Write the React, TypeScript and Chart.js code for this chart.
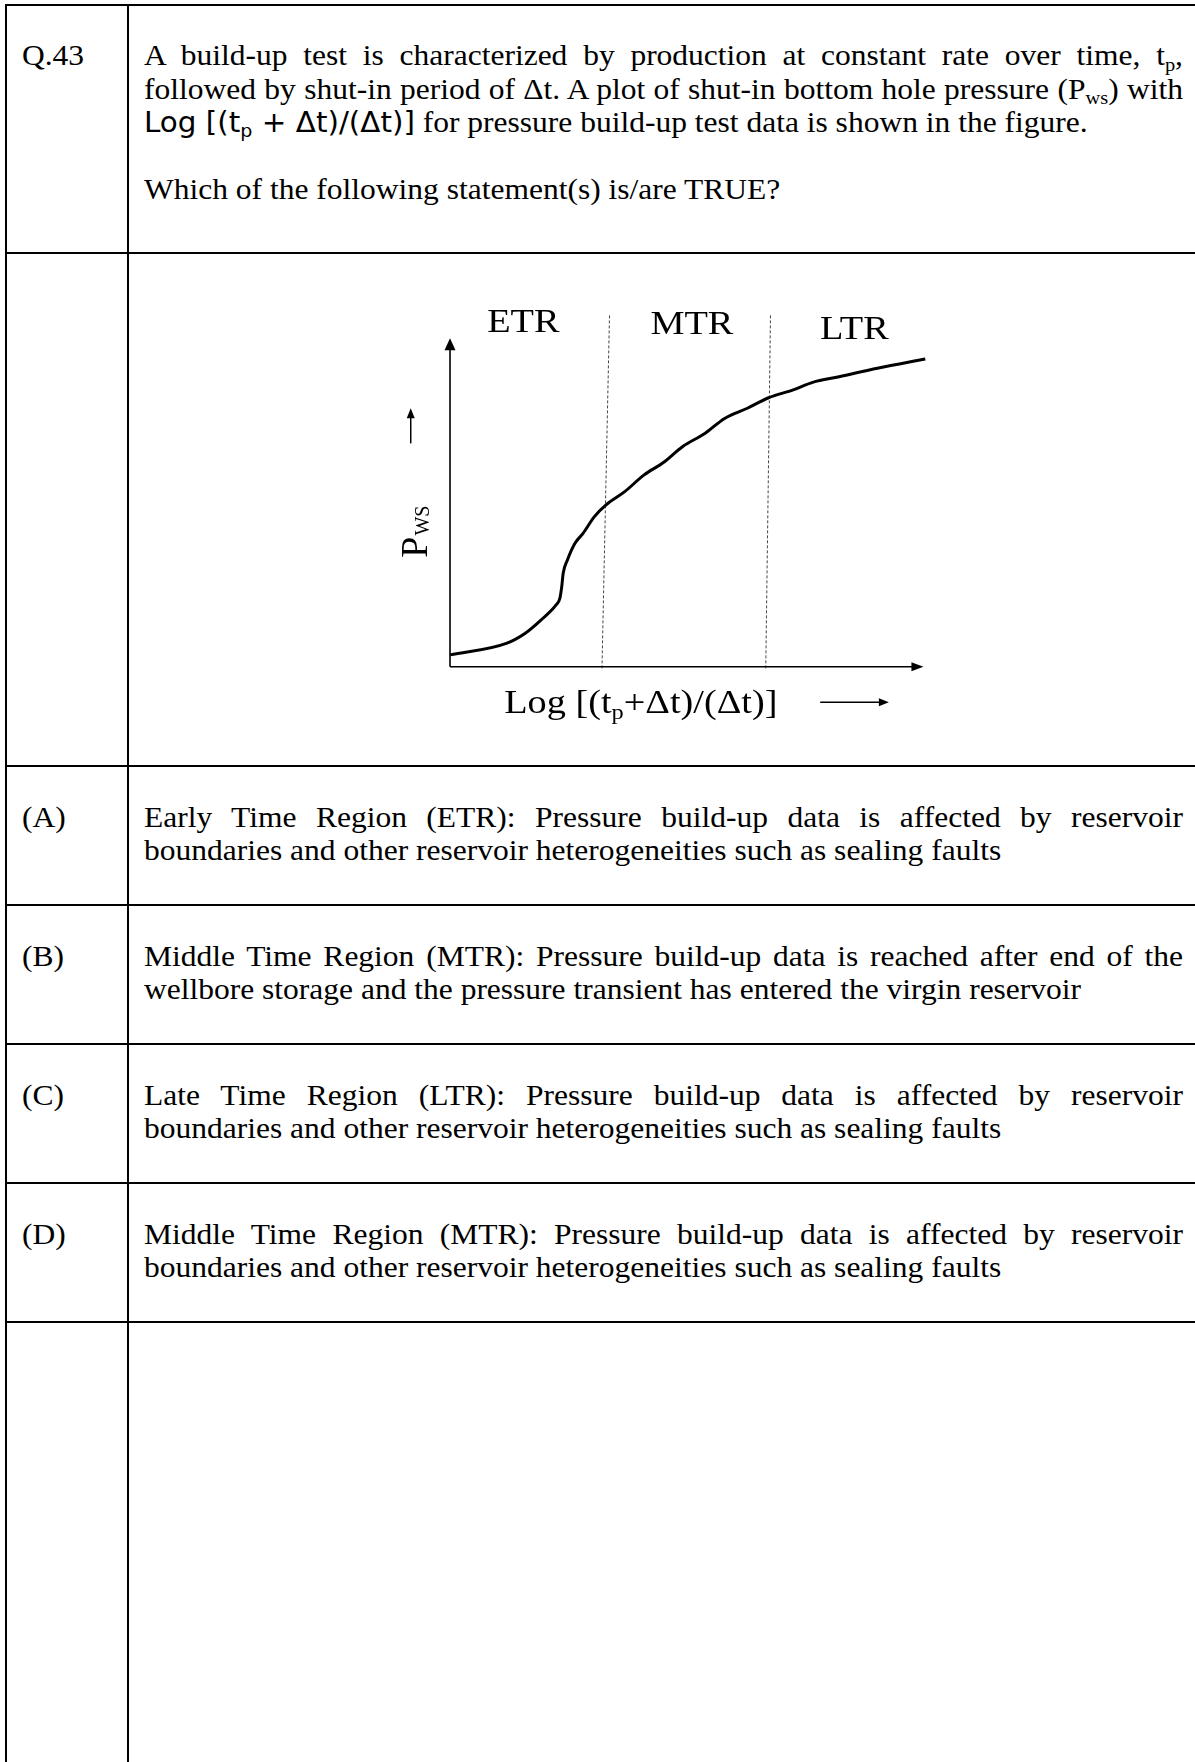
import React, { useEffect, useRef } from "react";
import { Chart, registerables } from "chart.js";

Chart.register(...registerables);

// ---- chart data (unitless: 0..100 on each axis) ----
const curveX = [0, 11.9, 15.9, 19.2, 22.4, 23.2, 23.6, 23.9, 24.8, 26.4, 28.1, 30.5, 32.9, 36.9, 41.0, 45.0, 49.1, 53.9, 58.0, 62.8, 67.3, 72.5, 76.6, 82.2, 90.3, 100.4];
const curveY = [3.6, 7.1, 10.2, 14.2, 18.8, 20.8, 24.4, 28.4, 32.5, 37.6, 40.6, 45.7, 49.2, 53.3, 58.4, 62.1, 67.0, 71.1, 75.6, 78.7, 81.9, 84.3, 86.6, 88.3, 90.9, 93.7];
const boundary1X = [32.1, 33.7];
const boundary1Y = [-0.5, 107.6];
const boundary2X = [66.7, 67.7];
const boundary2Y = [-0.5, 107.1];
const regionLabels = ["ETR", "MTR", "LTR"];
const regionLabelX = [15.5, 51.1, 85.4];
const regionLabelY = [104.6, 104.0, 102.5];
const axisEnd = [100, 100];
const yLabelPos = [-7.4, 41];
const yArrow = [-8.3, 68, 78.7];
const xLabelPos = [40.3, -14.2];
const xArrow = [78.2, 92.7, -10.8];

const FIG_FONT = '"Liberation Serif", "Times New Roman", serif';
const STRETCH = 1.16;

const toPts = (xs: number[], ys: number[]) => xs.map((x, i) => ({ x, y: ys[i] }));

function arrowHead(ctx: CanvasRenderingContext2D, tx: number, ty: number, dir: "up" | "right", len: number, half: number) {
  ctx.beginPath();
  if (dir === "right") {
    ctx.moveTo(tx, ty);
    ctx.lineTo(tx - len, ty - half);
    ctx.lineTo(tx - len, ty + half);
  } else {
    ctx.moveTo(tx, ty);
    ctx.lineTo(tx - half, ty + len);
    ctx.lineTo(tx + half, ty + len);
  }
  ctx.closePath();
  ctx.fill();
}

const decorPlugin = {
  id: "decor",
  afterDatasetsDraw(chart: any) {
    const { ctx } = chart;
    const xs = chart.scales.x;
    const ys = chart.scales.y;
    const px = (v: number) => xs.getPixelForValue(v);
    const py = (v: number) => ys.getPixelForValue(v);
    ctx.save();
    ctx.fillStyle = "#000";
    ctx.strokeStyle = "#000";
    // axes
    ctx.lineWidth = 1.6;
    const ox = px(0), oy = py(0);
    const ex = px(axisEnd[0]), ey = py(axisEnd[1]);
    ctx.beginPath();
    ctx.moveTo(ox, oy);
    ctx.lineTo(ex - 8, oy);
    ctx.moveTo(ox, oy);
    ctx.lineTo(ox, ey + 8);
    ctx.stroke();
    arrowHead(ctx, ex, oy, "right", 12, 4.5);
    arrowHead(ctx, ox, ey, "up", 12, 5.5);

    // region labels
    ctx.font = `33px ${FIG_FONT}`;
    ctx.textBaseline = "middle";
    ctx.textAlign = "center";
    regionLabels.forEach((t, i) => {
      ctx.save();
      ctx.translate(px(regionLabelX[i]), py(regionLabelY[i]));
      ctx.scale(STRETCH, 1);
      ctx.fillText(t, 0, 0);
      ctx.restore();
    });

    // x label with subscript
    ctx.textBaseline = "alphabetic";
    ctx.textAlign = "left";
    const big = `33px ${FIG_FONT}`;
    const small = `21px ${FIG_FONT}`;
    const parts: [string, string, number][] = [
      ["Log [(t", big, 0],
      ["p", small, 6],
      ["+\u0394t)/(\u0394t)]", big, 0],
    ];
    let total = 0;
    parts.forEach(([t, f]) => {
      ctx.font = f;
      total += ctx.measureText(t).width;
    });
    ctx.save();
    ctx.translate(px(xLabelPos[0]), py(xLabelPos[1]));
    ctx.scale(STRETCH, 1);
    let cx = -total / 2;
    parts.forEach(([t, f, dy]) => {
      ctx.font = f;
      ctx.fillText(t, cx, dy);
      cx += ctx.measureText(t).width;
    });
    ctx.restore();
    // x arrow
    ctx.lineWidth = 1.5;
    ctx.beginPath();
    ctx.moveTo(px(xArrow[0]), py(xArrow[2]));
    ctx.lineTo(px(xArrow[1]) - 8, py(xArrow[2]));
    ctx.stroke();
    arrowHead(ctx, px(xArrow[1]), py(xArrow[2]), "right", 10, 4);

    // y label (rotated)
    ctx.save();
    ctx.translate(px(yLabelPos[0]), py(yLabelPos[1]));
    ctx.rotate(-Math.PI / 2);
    ctx.font = `38px ${FIG_FONT}`;
    const wP = ctx.measureText("P").width;
    ctx.font = `20px ${FIG_FONT}`;
    const wS = ctx.measureText("WS").width;
    const start = -(wP + wS) / 2;
    ctx.font = `38px ${FIG_FONT}`;
    ctx.fillText("P", start, 12);
    ctx.font = `20px ${FIG_FONT}`;
    ctx.fillText("WS", start + wP + 1, 14);
    ctx.restore();
    // y arrow
    ctx.beginPath();
    ctx.moveTo(px(yArrow[0]), py(yArrow[1]));
    ctx.lineTo(px(yArrow[0]), py(yArrow[2]) + 8);
    ctx.stroke();
    arrowHead(ctx, px(yArrow[0]), py(yArrow[2]), "up", 10, 4);
    ctx.restore();
  },
};

function Figure() {
  const ref = useRef<HTMLCanvasElement | null>(null);
  useEffect(() => {
    if (!ref.current) return;
    const chart = new Chart(ref.current, {
      type: "scatter",
      data: {
        datasets: [
          {
            data: toPts(curveX, curveY),
            showLine: true,
            borderColor: "#000",
            borderWidth: 3,
            pointRadius: 0,
            cubicInterpolationMode: "monotone",
          } as any,
          {
            data: toPts(boundary1X, boundary1Y),
            showLine: true,
            borderColor: "#444",
            borderWidth: 1,
            borderDash: [3, 2],
            pointRadius: 0,
          } as any,
          {
            data: toPts(boundary2X, boundary2Y),
            showLine: true,
            borderColor: "#444",
            borderWidth: 1,
            borderDash: [3, 2],
            pointRadius: 0,
          } as any,
        ],
      },
      options: {
        responsive: false,
        maintainAspectRatio: false,
        animation: false,
        layout: { padding: 0 },
        plugins: { legend: { display: false }, tooltip: { enabled: false } },
        scales: {
          x: { type: "linear", display: false, min: -14.79, max: 107.73 },
          y: { type: "linear", display: false, min: -19.27, max: 114.71 },
        },
      },
      plugins: [decorPlugin],
    });
    return () => chart.destroy();
  }, []);
  return (
    <canvas
      ref={ref}
      width={580}
      height={440}
      style={{ position: "absolute", left: 380, top: 290, width: 580, height: 440 }}
    />
  );
}

const TXT_FONT = '"Liberation Serif", "Times New Roman", serif';
const MATH_FONT = '"DejaVu Sans", sans-serif';
const FS = 30;
const LH = 33;
const SX = 1.05;
const TEXT_LEFT = 144;
const TEXT_W = 1039;

const subStyle: React.CSSProperties = { fontSize: "0.65em", position: "relative", top: "0.3em", lineHeight: 0 };

function Line({ top, left = TEXT_LEFT, justify = false, children }: { top: number; left?: number; justify?: boolean; children: React.ReactNode }) {
  return (
    <div
      style={{
        position: "absolute",
        left,
        top,
        width: TEXT_W / SX,
        transform: `scaleX(${SX})`,
        transformOrigin: "0 0",
        whiteSpace: "nowrap",
        textAlign: justify ? "justify" : "left",
        textAlignLast: justify ? "justify" : "left",
        fontFamily: TXT_FONT,
        fontSize: FS,
        lineHeight: `${LH}px`,
        color: "#000",
      }}
    >
      {children}
    </div>
  );
}

const hLines = [4, 252, 765, 904, 1043, 1182, 1321];
const vLines = [5, 127];

const optionRows = [
  { top: 765, label: "(A)", l1: "Early Time Region (ETR): Pressure build-up data is affected by reservoir", l2: "boundaries and other reservoir heterogeneities such as sealing faults" },
  { top: 904, label: "(B)", l1: "Middle Time Region (MTR): Pressure build-up data is reached after end of the", l2: "wellbore storage and the pressure transient has entered the virgin reservoir" },
  { top: 1043, label: "(C)", l1: "Late Time Region (LTR): Pressure build-up data is affected by reservoir", l2: "boundaries and other reservoir heterogeneities such as sealing faults" },
  { top: 1182, label: "(D)", l1: "Middle Time Region (MTR): Pressure build-up data is affected by reservoir", l2: "boundaries and other reservoir heterogeneities such as sealing faults" },
];

export default function App() {
  const qTop = 38;
  const qLH = 33.5;
  return (
    <div style={{ position: "absolute", left: 0, top: 0, width: 1195, height: 1762, overflow: "hidden", background: "#fff" }}>
      {hLines.map((y, i) => (
        <div key={"h" + i} style={{ position: "absolute", left: 5, top: y, width: 1190, height: 2, background: "#000" }} />
      ))}
      {vLines.map((x, i) => (
        <div key={"v" + i} style={{ position: "absolute", left: x, top: 4, width: 2, height: 1758, background: "#000" }} />
      ))}

      <Line top={qTop} left={22}>Q.43</Line>
      <Line top={qTop} justify>
        A build-up test is characterized by production at constant rate over time, t<span style={subStyle}>p</span>,
      </Line>
      <Line top={qTop + qLH} justify>
        followed by shut-in period of Δt. A plot of shut-in bottom hole pressure (P<span style={subStyle}>ws</span>) with
      </Line>
      <Line top={qTop + 2 * qLH}>
        <span style={{ fontFamily: MATH_FONT, fontSize: 28 }}>
          Log [(t<span style={subStyle}>p</span> + Δt)/(Δt)]
        </span>
        {"  "}for pressure build-up test data is shown in the figure.
      </Line>
      <Line top={qTop + 4 * qLH}>Which of the following statement(s) is/are TRUE?</Line>

      <Figure />

      {optionRows.map((r) => (
        <React.Fragment key={r.label}>
          <Line top={r.top + 35} left={22}>{r.label}</Line>
          <Line top={r.top + 35} justify>{r.l1}</Line>
          <Line top={r.top + 35 + LH}>{r.l2}</Line>
        </React.Fragment>
      ))}
    </div>
  );
}
